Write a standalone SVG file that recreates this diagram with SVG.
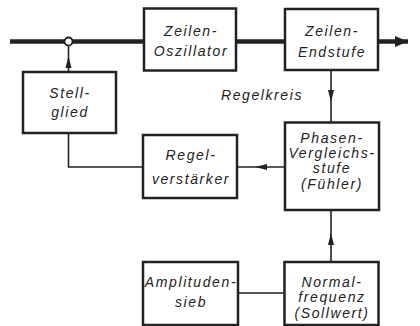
<svg xmlns="http://www.w3.org/2000/svg" width="420" height="326" viewBox="0 0 420 326">
<defs>
<style>
.box{fill:#fff;stroke:#222;stroke-width:2.5}
.t{font-family:"Liberation Sans",Arial,sans-serif;font-style:italic;font-size:14px;letter-spacing:1.6px;fill:#222;text-anchor:middle}
.thin{fill:none;stroke:#222;stroke-width:1.6}
.thick{fill:none;stroke:#222;stroke-width:4.5}
</style>
<marker id="ah" markerUnits="userSpaceOnUse" markerWidth="14" markerHeight="8" refX="12" refY="4" orient="auto" viewBox="0 0 14 8">
<path d="M0,1 L12,4 L0,7 z" fill="#222"/>
</marker>
<marker id="ahBig" markerUnits="userSpaceOnUse" markerWidth="14" markerHeight="12" refX="13" refY="6" orient="auto" viewBox="0 0 14 12">
<path d="M0,0.5 L13,6 L0,11.5 z" fill="#222"/>
</marker>
</defs>
<rect width="420" height="326" fill="#fff"/>
<g id="connectors">
<path class="thick" d="M10,41.5 H144"/>
<path class="thick" d="M236,41.5 H285"/>
<path class="thick" d="M378,41.5 H408" marker-end="url(#ahBig)"/>
<circle cx="68.5" cy="41.5" r="4" fill="#fff" stroke="#222" stroke-width="1.8"/>
<path class="thin" d="M68.5,72 V56 V45.5" marker-mid="url(#ah)"/>
<path class="thin" d="M68.5,133 V167 H143"/>
<path class="thin" d="M331,71 V102 V122" marker-mid="url(#ah)"/>
<path class="thin" d="M285,167 H255 H237" marker-mid="url(#ah)"/>
<path class="thin" d="M331,262 V233 V210" marker-mid="url(#ah)"/>
<path class="thin" d="M237,293 H285"/>
</g>
<g id="oszillator"><rect class="box" x="144" y="8.5" width="92" height="62"/><text class="t" x="191" y="36">Zeilen-</text><text class="t" x="191" y="56">Oszillator</text></g>
<g id="endstufe"><rect class="box" x="285" y="9" width="93" height="61"/><text class="t" x="332" y="36">Zeilen-</text><text class="t" x="332" y="57">Endstufe</text></g>
<g id="stellglied"><rect class="box" x="23" y="72" width="93" height="61"/><text class="t" x="70" y="98">Stell-</text><text class="t" x="70" y="117">glied</text></g>
<g id="regelkreis-label"><text class="t" x="262" y="100">Regelkreis</text></g>
<g id="regelverstaerker"><rect class="box" x="143" y="135" width="94" height="63"/><text class="t" x="191" y="160">Regel-</text><text class="t" x="191" y="184">verstärker</text></g>
<g id="phasen"><rect class="box" x="285" y="122.5" width="94" height="87.5"/><text class="t" x="332" y="143">Phasen-</text><text class="t" x="332" y="158">Vergleichs-</text><text class="t" x="332" y="173">stufe</text><text class="t" x="332" y="189">(Fühler)</text></g>
<g id="amplitudensieb"><rect class="box" x="143" y="262" width="95" height="63"/><text class="t" x="191" y="287">Amplituden-</text><text class="t" x="191" y="307">sieb</text></g>
<g id="normalfrequenz"><rect class="box" x="284.5" y="262" width="94" height="63"/><text class="t" x="332" y="287">Normal-</text><text class="t" x="332" y="302">frequenz</text><text class="t" x="332" y="318">(Sollwert)</text></g>
</svg>
